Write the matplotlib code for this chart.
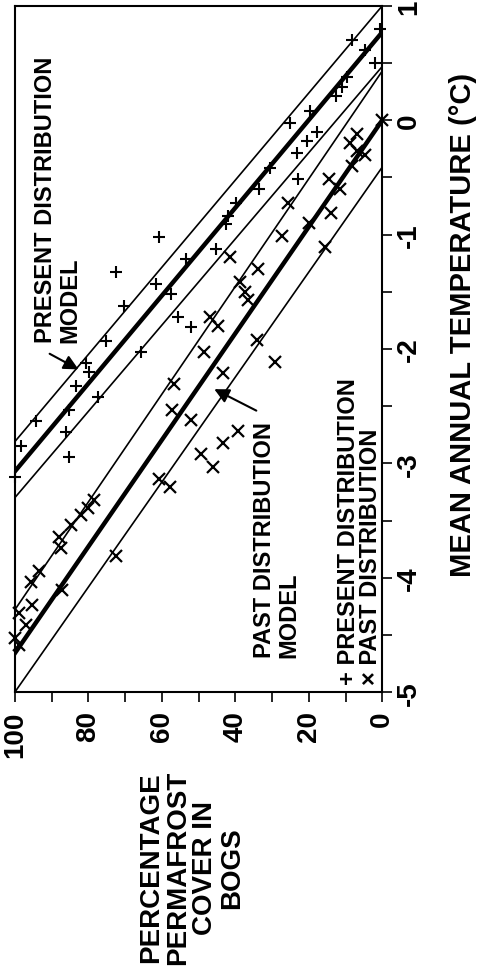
import matplotlib.pyplot as plt
import numpy as np

plt.rcParams['font.family'] = ['Liberation Sans', 'DejaVu Sans']
plt.rcParams['font.weight'] = 'bold'
plt.rcParams['axes.unicode_minus'] = False

# present distribution (+): percentage permafrost cover vs mean annual temperature
present_pct = [0.5, 2.0, 4.6, 8.3, 9.6, 11.0, 12.6, 19.7, 25.0, 17.7,
               20.6, 23.3, 30.6, 22.9, 33.6, 39.7, 42.0, 42.4, 60.7, 45.2,
               53.4, 72.5, 61.6, 57.5, 70.2, 55.7, 52.0, 75.2, 65.7, 80.7,
               79.8, 83.4, 77.5, 85.2, 94.3, 86.2, 98.4, 85.2, 100.0]
present_temp = [0.80, 0.50, 0.61, 0.70, 0.38, 0.29, 0.21, 0.08, -0.02, -0.10,
                -0.18, -0.29, -0.42, -0.51, -0.60, -0.72, -0.84, -0.91, -1.02, -1.13,
                -1.21, -1.33, -1.43, -1.52, -1.62, -1.72, -1.81, -1.93, -2.03, -2.12,
                -2.20, -2.32, -2.42, -2.53, -2.63, -2.73, -2.85, -2.94, -3.12]

# past distribution (x)
past_pct = [0.0, 6.9, 8.7, 7.0, 4.6, 8.3, 14.5, 11.5, 25.7, 14.0,
            20.0, 27.4, 15.6, 41.5, 33.9, 38.8, 37.4, 36.6, 47.0, 44.8,
            34.2, 48.4, 29.2, 43.4, 56.6, 57.1, 52.0, 39.3, 43.4, 49.3,
            46.2, 60.7, 57.9, 78.4, 80.2, 82.0, 84.8, 88.0, 87.5, 72.5,
            93.4, 95.7, 87.1, 95.3, 98.9, 97.1, 100.0, 98.9]
past_temp = [0.0, -0.12, -0.20, -0.27, -0.30, -0.40, -0.51, -0.60, -0.72, -0.81,
             -0.90, -1.01, -1.11, -1.20, -1.30, -1.41, -1.50, -1.57, -1.72, -1.80,
             -1.92, -2.03, -2.11, -2.21, -2.31, -2.53, -2.62, -2.72, -2.82, -2.92,
             -3.03, -3.14, -3.21, -3.32, -3.39, -3.45, -3.54, -3.64, -3.74, -3.81,
             -3.94, -4.04, -4.11, -4.24, -4.31, -4.41, -4.53, -4.59]

# model lines: temperature at 100 % and at 0 % cover
line_pct = [100, 0]
present_model = [-3.07, 0.77]
present_upper = [-2.81, 1.00]
present_lower = [-3.30, 0.47]
past_model = [-4.66, 0.00]
past_upper = [-4.28, 0.43]
past_lower = [-5.00, -0.41]

pct_ticks = [0, 20, 40, 60, 80, 100]
temp_ticks = [-5, -4, -3, -2, -1, 0, 1]

fig = plt.figure(figsize=(4.79, 9.79), dpi=100)
ax = fig.add_axes([0.031, 0.292, 0.767, 0.701])

thin = 1.2
thick = 3.2
ax.plot(line_pct, present_upper, color='k', lw=thin)
ax.plot(line_pct, present_model, color='k', lw=thick)
ax.plot(line_pct, present_lower, color='k', lw=thin)
ax.plot(line_pct, past_upper, color='k', lw=thin)
ax.plot(line_pct, past_model, color='k', lw=thick)
ax.plot(line_pct, past_lower, color='k', lw=thin)

ax.plot(present_pct, present_temp, '+', color='k', ms=8, mew=1.5, clip_on=False)
ax.plot(past_pct, past_temp, 'x', color='k', ms=8, mew=1.6, clip_on=False)

# the chart is drawn turned on its side
ax.set_xlim(100, 0)
ax.set_ylim(-5, 1)
ax.set_xticks(pct_ticks)
ax.set_xticks(np.arange(0, 101, 10), minor=True)
ax.set_yticks(temp_ticks)
ax.set_yticks(np.arange(-5, 1.01, 0.5), minor=True)
ax.yaxis.tick_right()
ax.tick_params(which='both', direction='out', length=7, width=1.2)
ax.tick_params(axis='x', labelsize=20, labelrotation=90, pad=6)
ax.tick_params(axis='y', labelsize=20, labelrotation=90, pad=3)
for lbl in ax.get_yticklabels():
    lbl.set_va('center')
for s in ax.spines.values():
    s.set_linewidth(1.5)

ax.text(94.8, -1.94, 'PRESENT DISTRIBUTION\nMODEL', rotation=90, ha='left',
        va='bottom', fontsize=17, linespacing=1.1)
ax.text(35.2, -4.69, 'PAST DISTRIBUTION\nMODEL', rotation=90, ha='left',
        va='bottom', fontsize=17, linespacing=1.1)
ax.text(12.3, -4.93, '+ PRESENT DISTRIBUTION\n× PAST DISTRIBUTION', rotation=90,
        ha='left', va='bottom', fontsize=17, linespacing=0.95)

ax.annotate('', xy=(82, -2.19), xytext=(91.2, -2.03),
            arrowprops=dict(arrowstyle='-|>', lw=1.5, color='k', mutation_scale=22))
ax.annotate('', xy=(46.4, -2.34), xytext=(33.6, -2.55),
            arrowprops=dict(arrowstyle='-|>', lw=1.5, color='k', mutation_scale=22))

fig.text(463 / 479, 1 - 325 / 979, 'MEAN ANNUAL TEMPERATURE (°C)', rotation=90,
         ha='center', va='center', fontsize=21)
fig.text(192 / 479, 1 - 868 / 979, 'PERCENTAGE\nPERMAFROST\nCOVER IN\nBOGS', rotation=90,
         ha='center', va='center', multialignment='center', fontsize=20, linespacing=1.05)

plt.savefig('out.png', dpi=100)
